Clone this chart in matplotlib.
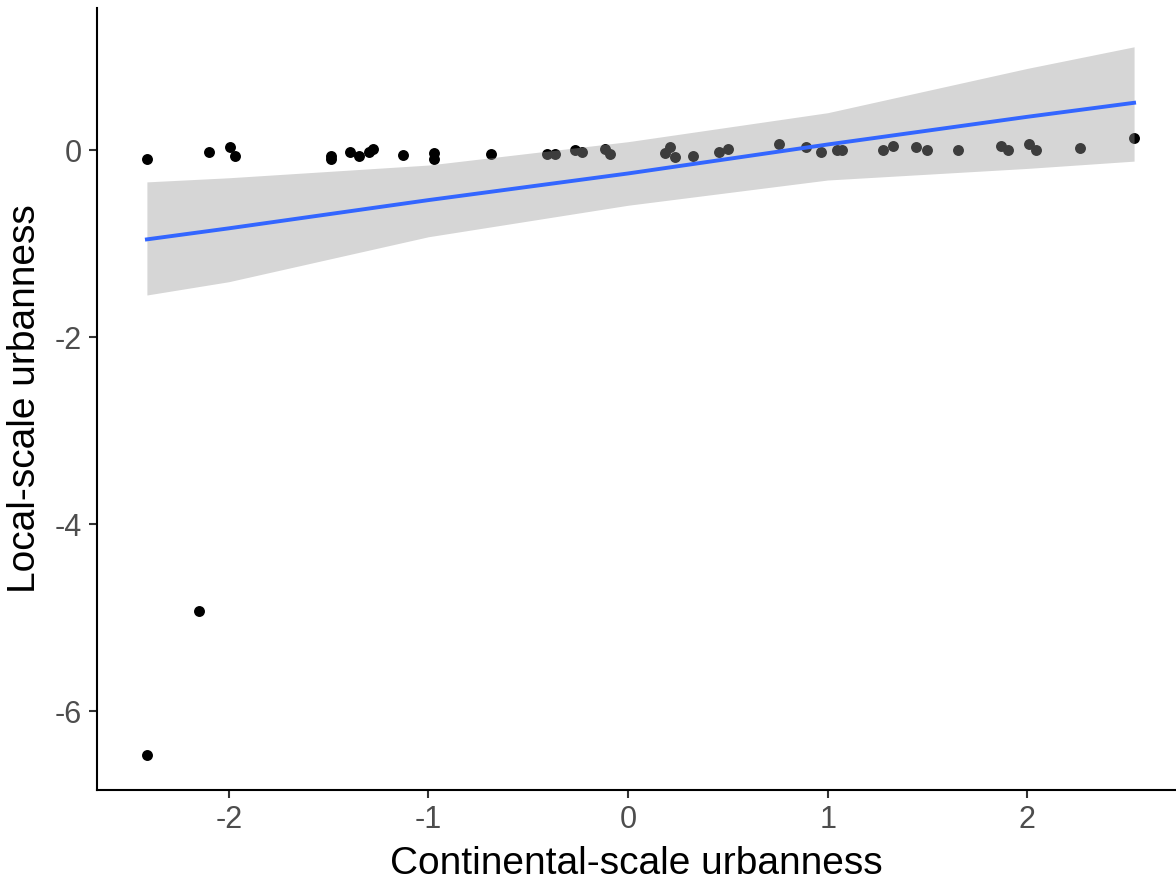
import numpy as np
import matplotlib
matplotlib.use("Agg")
import matplotlib.pyplot as plt

# Data
continental = [
    -2.41, -2.41, -2.15, -2.10, -1.994, -1.97, -1.488, -1.488, -1.393, -1.348,
    -1.296, -1.276, -1.129, -0.972, -0.972, -0.686, -0.407, -0.366, -0.266, -0.232,
    -0.115, -0.09, 0.21, 0.185, 0.235, 0.327, 0.457, 0.5, 0.758, 0.89,
    0.967, 1.045, 1.07, 1.279, 1.329, 1.443, 1.5, 1.652, 1.869, 1.905,
    2.009, 2.043, 2.264, 2.535,
]
local = [
    -0.09, -6.47, -4.93, -0.025, 0.03, -0.064, -0.06, -0.10, -0.018, -0.064,
    -0.018, 0.007, -0.053, -0.03, -0.10, -0.043, -0.043, -0.043, 0.0, -0.025,
    0.007, -0.043, 0.035, -0.035, -0.07, -0.061, -0.025, 0.007, 0.064, 0.029,
    -0.025, 0.0, 0.0, 0.0, 0.046, 0.029, 0.0, 0.0, 0.046, 0.0,
    0.07, 0.0, 0.021, 0.125,
]

# Smoother (linear fit) and its confidence band
smooth_x = [-2.41, -2.0, -1.0, 0.0, 1.0, 2.0, 2.535]
smooth_fit = [-0.955, -0.837, -0.535, -0.25, 0.06, 0.356, 0.506]
smooth_lo = [-1.55, -1.408, -0.927, -0.59, -0.32, -0.196, -0.118]
smooth_hi = [-0.34, -0.296, -0.16, 0.09, 0.40, 0.874, 1.105]

x_ticks = [-2, -1, 0, 1, 2]
y_ticks = [0, -2, -4, -6]
x_label = "Continental-scale urbanness"
y_label = "Local-scale urbanness"

plt.rcParams['font.family'] = ['Liberation Sans', 'DejaVu Sans']

fig = plt.figure(figsize=(11.76, 8.81), dpi=100)
ax = fig.add_axes([97 / 1176, 91 / 881, (1176 - 97) / 1176, (790 - 8) / 881])

ax.scatter(continental, local, s=62, color='black', linewidths=0, zorder=2)
ax.fill_between(smooth_x, smooth_lo, smooth_hi, color='#999999', alpha=0.4,
                linewidth=0, zorder=3)
ax.plot(smooth_x, smooth_fit, color='#3366FF', linewidth=2.8, zorder=4)

ax.set_xlim(-2.66, 2.745)
ax.set_ylim(-6.845, 1.52)
ax.set_xticks(x_ticks)
ax.set_xticklabels([str(v) for v in x_ticks])
ax.set_yticks(y_ticks)
ax.set_yticklabels([str(v) for v in y_ticks])

for side in ['top', 'right']:
    ax.spines[side].set_visible(False)
for side in ['left', 'bottom']:
    ax.spines[side].set_linewidth(1.5)
    ax.spines[side].set_color('black')

ax.tick_params(axis='both', length=6, width=1.5, color='#333333',
               labelsize=22, labelcolor='#4d4d4d', pad=5)
ax.set_xlabel(x_label, fontsize=28, color='black', labelpad=8)
ax.set_ylabel(y_label, fontsize=28, color='black', labelpad=8)

fig.savefig('out.png', dpi=100)
